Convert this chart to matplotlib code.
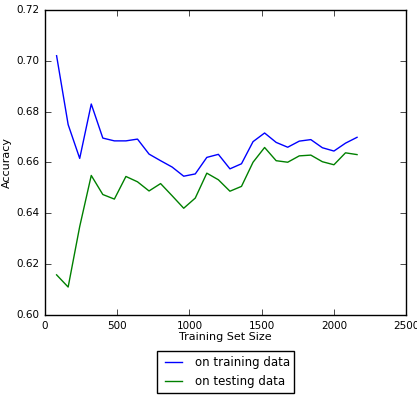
import matplotlib
matplotlib.use("Agg")
import matplotlib.pyplot as plt

train_sizes = [80 * i for i in range(1, 28)]
train_acc = [0.702, 0.6749, 0.6616, 0.683, 0.6696, 0.6685, 0.6685, 0.6692, 0.6633,
             0.6607, 0.6582, 0.6546, 0.6555, 0.662, 0.6632, 0.6575, 0.6595, 0.6682,
             0.6716, 0.6679, 0.666, 0.6684, 0.669, 0.6658, 0.6645, 0.6676, 0.6699]
test_acc = [0.6158, 0.611, 0.6348, 0.6549, 0.6474, 0.6456, 0.6545, 0.6524, 0.6488,
            0.6517, 0.6469, 0.642, 0.646, 0.6558, 0.6532, 0.6487, 0.6506, 0.6601,
            0.6659, 0.6607, 0.6601, 0.6626, 0.6629, 0.6603, 0.6591, 0.6638, 0.6631]
labels = ["on training data", "on testing data"]

plt.style.use("classic")
fig = plt.figure(figsize=(4.17, 3.98), dpi=100, facecolor="white")
ax = fig.add_axes([0.108, 0.2085, 0.866, 0.7665])
ax.plot(train_sizes, train_acc, color="b", lw=1.0, label=labels[0])
ax.plot(train_sizes, test_acc, color="g", lw=1.0, label=labels[1])
ax.set_xlim(0, 2500)
ax.set_ylim(0.60, 0.72)
ax.set_xticks([0, 500, 1000, 1500, 2000, 2500])
ax.set_yticks([0.60, 0.62, 0.64, 0.66, 0.68, 0.70, 0.72])
ax.set_yticklabels(["%.2f" % v for v in [0.60, 0.62, 0.64, 0.66, 0.68, 0.70, 0.72]])
ax.tick_params(labelsize=7.5)
ax.set_xlabel("Training Set Size", fontsize=8, labelpad=1)
ax.set_ylabel("Accuracy", fontsize=8, labelpad=3)
ax.legend(loc="upper center", bbox_to_anchor=(0.5, -0.1), fontsize=8.5, ncol=1)
fig.savefig("out.png", dpi=100, facecolor="white")
